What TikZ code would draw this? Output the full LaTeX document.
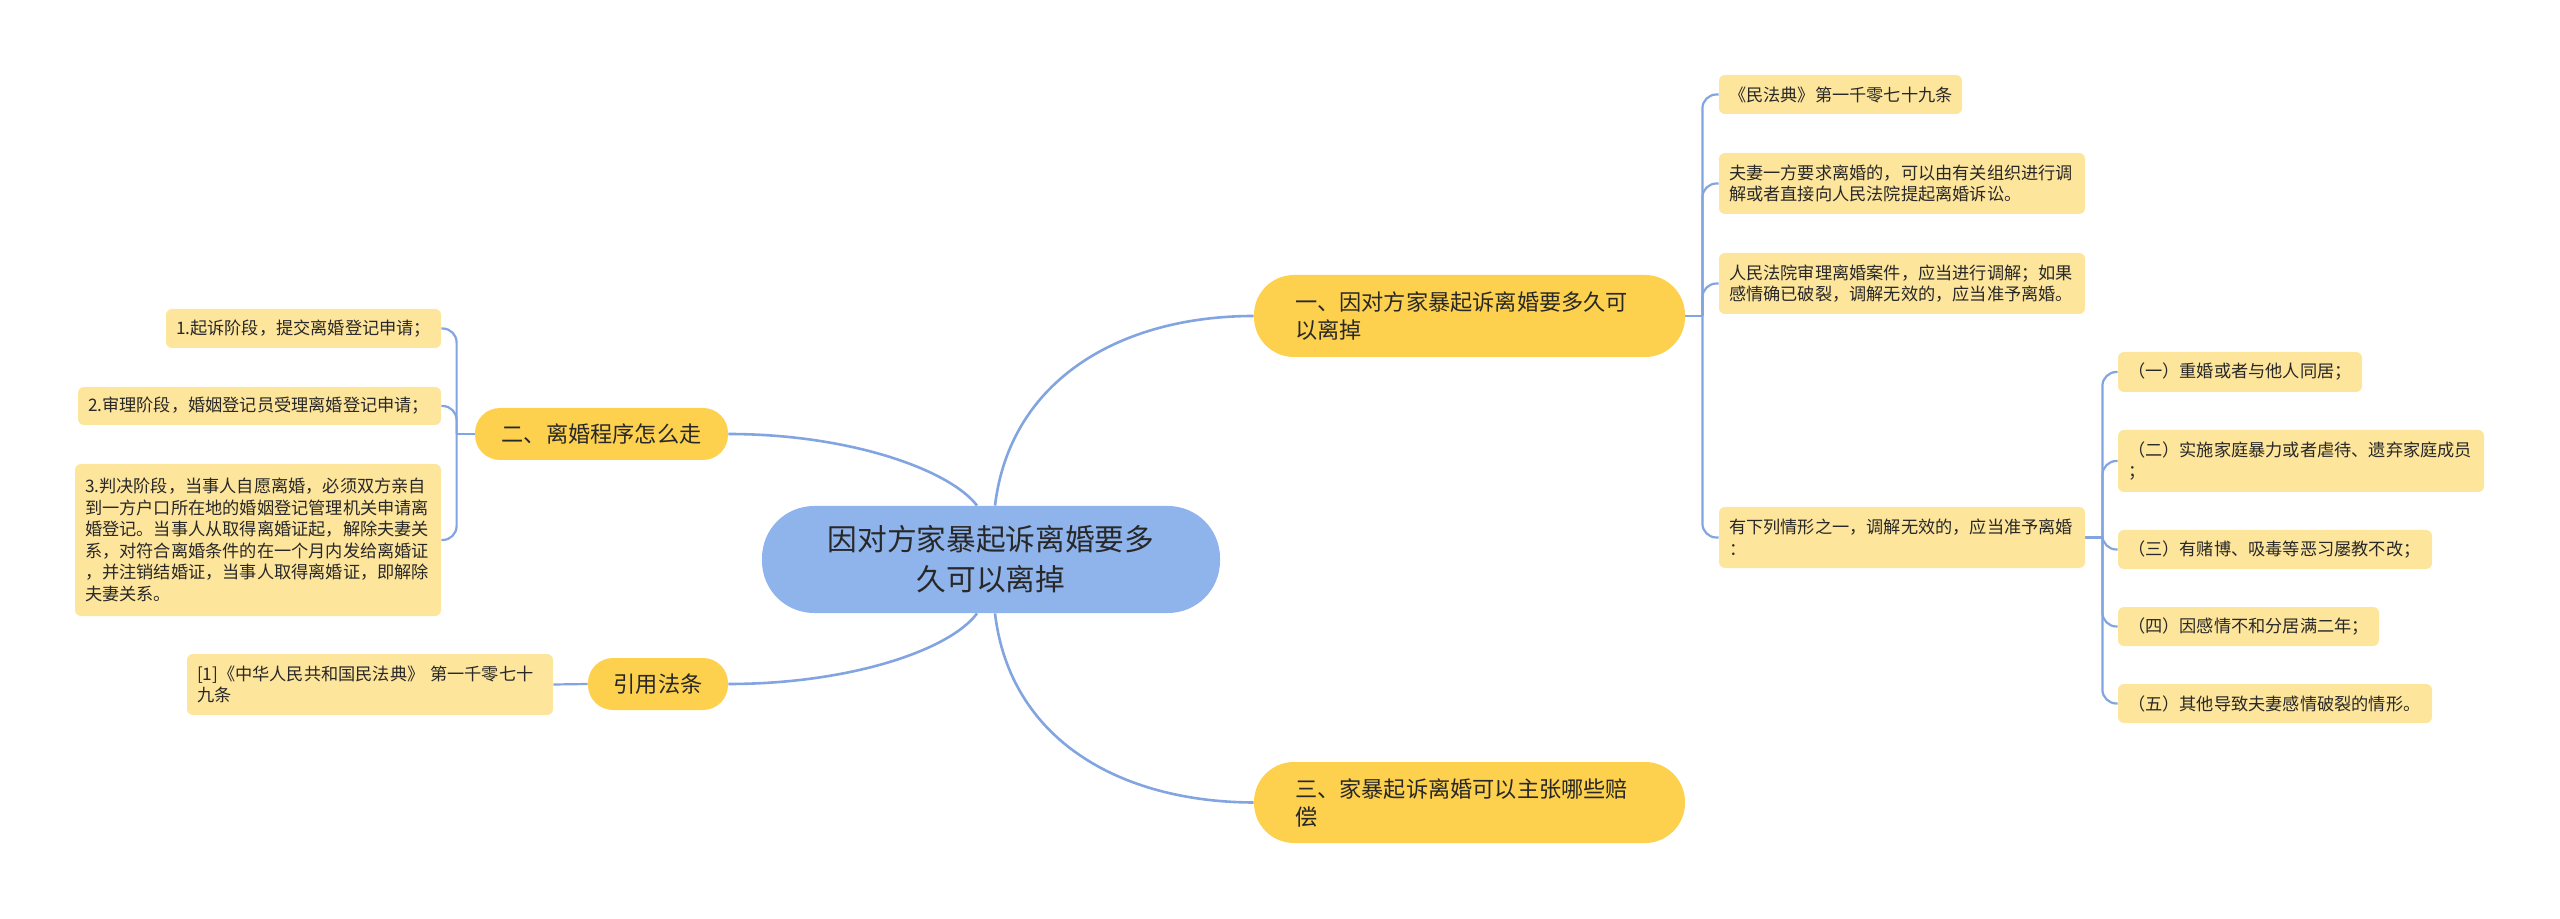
\documentclass[tikz,border=0pt]{standalone}
\usepackage{fontspec}
\setmainfont{Noto Sans CJK SC}
\definecolor{lineblue}{RGB}{130,165,225}
\definecolor{cfill}{RGB}{143,179,235}
\definecolor{mfill}{RGB}{253,209,78}
\definecolor{lfill}{RGB}{253,229,155}
\definecolor{tx}{RGB}{40,40,40}
\pgfdeclarelayer{bg}
\pgfsetlayers{bg,main}
\begin{document}
\begin{tikzpicture}[x=0.5pt,y=-0.5pt,
  lf/.style={fill=lfill, rounded corners=3pt, text=tx, align=left, inner xsep=5pt, inner ysep=0pt,
    font=\fontsize{8.6pt}{10.8pt}\selectfont, text width=#1},
  mainnode/.style={fill=mfill, text=tx, inner ysep=0pt, font=\fontsize{11.1pt}{14pt}\selectfont},
  conn/.style={draw=lineblue, line width=1.3pt},
  sub/.style={draw=lineblue, line width=1.1pt, rounded corners=7pt}]
\path[use as bounding box] (0,0) rectangle (2560,919);

% central
\node[fill=cfill, text=tx, rounded corners=26pt, align=center, minimum width=229pt, minimum height=53.5pt,
  inner sep=0pt, font=\fontsize{14.85pt}{20pt}\selectfont] (c) at (991,559.5)
  {因对方家暴起诉离婚要多\\久可以离掉};

% main branches
\node[mainnode, rounded corners=20pt, align=left, inner xsep=20.5pt, text width=174.5pt, minimum height=41pt] (n1) at (1469.5,316)
  {一、因对方家暴起诉离婚要多久可\\以离掉};
\node[mainnode, rounded corners=20pt, align=left, inner xsep=20.5pt, text width=174.5pt, minimum height=40.5pt] (n3) at (1469.5,802.5)
  {三、家暴起诉离婚可以主张哪些赔\\偿};
\node[mainnode, rounded corners=12.5pt, align=center, inner xsep=0pt, minimum width=126.5pt, minimum height=26pt] (n2) at (601.5,434)
  {二、离婚程序怎么走};
\node[mainnode, rounded corners=12.5pt, align=center, inner xsep=0pt, minimum width=70pt, minimum height=26pt] (n4) at (658,684)
  {引用法条};

% right leaves
\node[lf=111.5pt, minimum height=19.5pt] (r1) at (1840.5,94.5) {《民法典》第一千零七十九条};
\node[lf=173pt, minimum height=30.5pt] (r2) at (1902,183.5) {夫妻一方要求离婚的，可以由有关组织进行调\\解或者直接向人民法院提起离婚诉讼。};
\node[lf=173pt, minimum height=30.5pt] (r3) at (1902,283.5) {人民法院审理离婚案件，应当进行调解；如果\\感情确已破裂，调解无效的，应当准予离婚。};
\node[lf=173pt, minimum height=30.5pt] (r4) at (1902,537.5) {有下列情形之一，调解无效的，应当准予离婚\\：};

% sub leaves
\node[lf=112pt, minimum height=20pt] (s1) at (2240,372) {（一）重婚或者与他人同居；};
\node[lf=173pt, minimum height=31pt] (s2) at (2301,461) {（二）实施家庭暴力或者虐待、遗弃家庭成员\\；};
\node[lf=147pt, minimum height=19.5pt] (s3) at (2275,549.5) {（三）有赌博、吸毒等恶习屡教不改；};
\node[lf=120.5pt, minimum height=19.5pt] (s4) at (2248.5,626.5) {（四）因感情不和分居满二年；};
\node[lf=147pt, minimum height=19.5pt] (s5) at (2275,703.5) {（五）其他导致夫妻感情破裂的情形。};

% left leaves
\node[lf=127.5pt, minimum height=19.5pt] (l1) at (303.5,328.5) {1.起诉阶段，提交离婚登记申请；};
\node[lf=171.5pt, minimum height=19pt] (l2) at (259.5,406) {2.审理阶段，婚姻登记员受理离婚登记申请；};
\node[lf=173pt, minimum height=76pt] (l3) at (258,540) {3.判决阶段，当事人自愿离婚，必须双方亲自\\到一方户口所在地的婚姻登记管理机关申请离\\婚登记。当事人从取得离婚证起，解除夫妻关\\系，对符合离婚条件的在一个月内发给离婚证\\，并注销结婚证，当事人取得离婚证，即解除\\夫妻关系。};
\node[lf=173pt, minimum height=30.5pt] (ref) at (370,684.5) {[1]《中华人民共和国民法典》 第一千零七十\\九条};

\coordinate (j1) at ([xshift=8.5pt]n1.east);
\coordinate (j2) at ([xshift=-9pt]n2.west);
\coordinate (j3) at ([xshift=8.5pt]r4.east);

\begin{pgfonlayer}{bg}
\draw[conn] ([xshift=2pt]c.north) .. controls (1010,380) and (1120,316) .. (n1.west);
\draw[conn] ([xshift=-7pt]c.north) .. controls (950,470) and (850,434) .. (n2.east);
\draw[conn] ([xshift=-7pt]c.south) .. controls (950,650) and (850,684) .. (n4.east);
\draw[conn] ([xshift=2pt]c.south) .. controls (1010,740) and (1120,802) .. (n3.west);

\draw[sub] (n1.east) -- (j1);
\foreach \t in {r1,r2,r3,r4} \draw[sub] (j1) |- (\t.west);
\draw[sub] (r4.east) -- (j3);
\foreach \t in {s1,s2,s3,s4,s5} \draw[sub] (j3) |- (\t.west);
\draw[sub] (n2.west) -- (j2);
\foreach \t in {l1,l2,l3} \draw[sub] (j2) |- (\t.east);
\draw[sub] (ref.east) -- (n4.west);
\end{pgfonlayer}
\end{tikzpicture}
\end{document}
